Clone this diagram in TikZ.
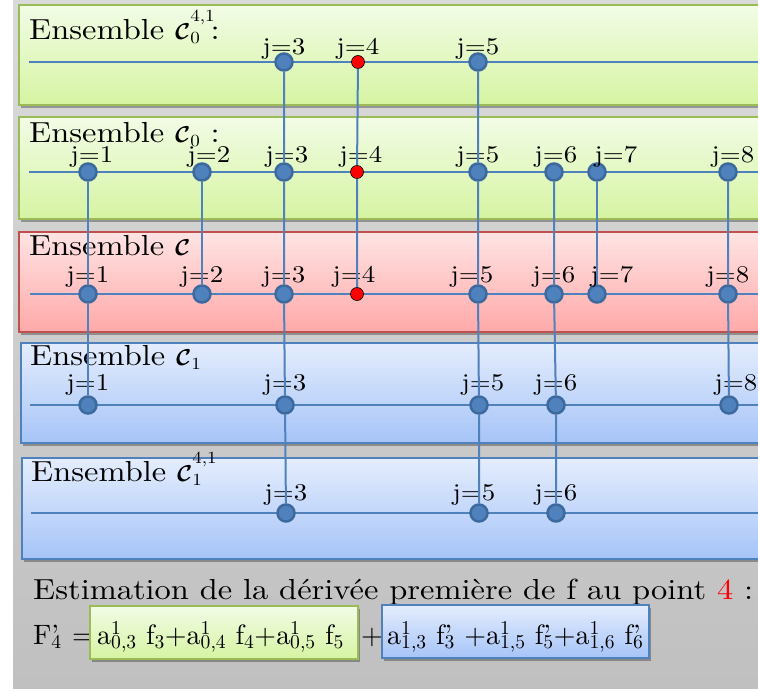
\documentclass[tikz,border=0pt]{standalone}
\usepackage{amsmath}
\usepackage{bm}
\usepackage{graphicx}
\usepackage{fontspec}
\setmainfont{lmroman10-regular.otf}[FakeStretch=1.12]
\newfontfamily\formfont{lmroman10-regular.otf}
\usetikzlibrary{shadows}

\definecolor{fondh}{HTML}{DADADA}
\definecolor{fondb}{HTML}{C0C0C0}
\definecolor{ligne}{HTML}{4F81BD}
\definecolor{pointb}{HTML}{3C6A9E}
\definecolor{vertbord}{HTML}{9BBB59}
\definecolor{verth}{HTML}{F2FCE6}
\definecolor{vertb}{HTML}{D6F4A2}
\definecolor{rougebord}{HTML}{C0504D}
\definecolor{rougeh}{HTML}{FFE4E4}
\definecolor{rougeb}{HTML}{FFA9A9}
\definecolor{bleuh}{HTML}{E4EDFD}
\definecolor{bleub}{HTML}{A6C4F8}

% indices haut et bas empiles
\newcommand{\hb}[2]{\rlap{\textsuperscript{#1}}\textsubscript{#2}}
\newcommand{\pb}[1]{\rlap{’}\textsubscript{#1}}
% le C de chaque ensemble, indice #1 et exposant #2
\newcommand{\ens}[2]{\scalebox{2.3}{\fontsize{10}{12}\selectfont$\bm{\mathcal{C}}$}%
  \rlap{\raisebox{18pt}{\fontsize{17}{18}\selectfont #2}}%
  {\fontsize{17}{18}\selectfont\raisebox{-4pt}{#1}}}

\tikzset{
  ombre/.style={drop shadow={shadow xshift=2pt,shadow yshift=-3pt,fill=black,opacity=0.3}},
  panelv/.style={ombre,draw=vertbord,line width=2.5pt,top color=verth,bottom color=vertb},
  panelr/.style={ombre,draw=rougebord,line width=2.5pt,top color=rougeh,bottom color=rougeb},
  panelb/.style={ombre,draw=ligne,line width=2.5pt,top color=bleuh,bottom color=bleub},
  axe/.style={ligne,line width=2pt},
  bdot/.style={circle,fill=ligne,draw=pointb,line width=2.5pt,minimum size=17pt,inner sep=0pt},
  rdot/.style={circle,fill=red,draw=black,line width=0.6pt,minimum size=13pt,inner sep=0pt},
  jlab/.style={inner sep=0pt,font=\fontsize{24}{26}\selectfont},
  titre/.style={anchor=base west,inner sep=0pt,font=\fontsize{29}{32}\selectfont},
  formule/.style={anchor=base west,inner sep=0pt,font=\formfont\fontsize{28}{30}\selectfont}
}

\begin{document}
\begin{tikzpicture}[x=1pt,y=-1pt]
  \useasboundingbox (0,0) rectangle (758,692);
  \clip (0,0) rectangle (758,692);
  \shade[top color=fondh,bottom color=fondb] (13,0) rectangle (758,688);

  % les cinq ensembles
  \draw[panelv] (19,5) rectangle (780,105);
  \draw[panelv] (19,117) rectangle (780,219);
  \draw[panelr] (19,232) rectangle (780,332);
  \draw[panelb] (21,343) rectangle (780,443);
  \draw[panelb] (22,458) rectangle (780,559);

  \node[titre] (t0) at (29,40) {Ensemble \ens{0}{4,1} :};
  \node[titre] (t1) at (29,143) {Ensemble \ens{0}{} :};
  \node[titre] (t2) at (29,256) {Ensemble \ens{}{}};
  \node[titre] (t3) at (30,366) {Ensemble \ens{1}{}};
  \node[titre] (t4) at (31,482) {Ensemble \ens{1}{4,1}};

  \coordinate (g0) at (29,62);  \coordinate (d0) at (780,62);
  \coordinate (g1) at (29,172); \coordinate (d1) at (780,172);
  \coordinate (g2) at (30,294); \coordinate (d2) at (780,294);
  \coordinate (g3) at (30,405); \coordinate (d3) at (780,405);
  \coordinate (g4) at (31,513); \coordinate (d4) at (780,513);
  \draw[axe] (g0) -- (d0);
  \draw[axe] (g1) -- (d1);
  \draw[axe] (g2) -- (d2);
  \draw[axe] (g3) -- (d3);
  \draw[axe] (g4) -- (d4);

  % points de chaque ensemble
  \begin{scope}[every label/.style={jlab,label distance=-7pt}]
    \node[bdot,label={above:j=3}] (c03) at (284,62) {};
    \node[rdot,label={[label distance=-4pt]above:j=4}] (c04) at (358,62) {};
    \node[bdot,label={above:j=5}] (c05) at (478,62) {};
  \end{scope}

  \begin{scope}[every label/.style={jlab,label distance=-5pt}]
    \node[bdot,label={[xshift=4pt]above:j=1}] (c11) at (88,172) {};
    \node[bdot,label={[xshift=7pt]above:j=2}] (c12) at (202,172) {};
    \node[bdot,label={[xshift=3pt]above:j=3}] (c13) at (284,172) {};
    \node[rdot,label={[xshift=4pt,label distance=-2pt]above:j=4}] (c14) at (357,172) {};
    \node[bdot,label={above:j=5}] (c15) at (478,172) {};
    \node[bdot,label={[xshift=2pt]above:j=6}] (c16) at (554,172) {};
    \node[bdot,label={[xshift=19pt]above:j=7}] (c17) at (597,172) {};
    \node[bdot,label={[xshift=5pt]above:j=8}] (c18) at (728,172) {};
  \end{scope}

  \begin{scope}[every label/.style={jlab,label distance=-3pt}]
    \node[bdot,label={above:j=1}] (c21) at (88,294) {};
    \node[bdot,label={above:j=2}] (c22) at (202,294) {};
    \node[bdot,label={above:j=3}] (c23) at (284,294) {};
    \node[rdot,label={[xshift=-3pt,label distance=0pt]above:j=4}] (c24) at (357,294) {};
    \node[bdot,label={[xshift=-6pt]above:j=5}] (c25) at (478,294) {};
    \node[bdot,label={above:j=6}] (c26) at (554,294) {};
    \node[bdot,label={[xshift=15pt]above:j=7}] (c27) at (597,294) {};
    \node[bdot,label={above:j=8}] (c28) at (728,294) {};
  \end{scope}

  \begin{scope}[every label/.style={jlab,label distance=0pt}]
    \node[bdot,label={above:j=1}] (c31) at (88,405) {};
    \node[bdot,label={above:j=3}] (c33) at (285,405) {};
    \node[bdot,label={[xshift=4pt]above:j=5}] (c35) at (479,405) {};
    \node[bdot,label={above:j=6}] (c36) at (556,405) {};
    \node[bdot,label={[xshift=7pt]above:j=8}] (c38) at (729,405) {};
  \end{scope}

  \begin{scope}[every label/.style={jlab,label distance=-2pt}]
    \node[bdot,label={above:j=3}] (c43) at (286,513) {};
    \node[bdot,label={[xshift=-5pt]above:j=5}] (c45) at (479,513) {};
    \node[bdot,label={above:j=6}] (c46) at (556,513) {};
  \end{scope}

  % liaisons verticales
  \draw[axe] (c11) -- (c21) -- (c31);
  \draw[axe] (c12) -- (c22);
  \draw[axe] (c03) -- (c13) -- (c23) -- (c33) -- (c43);
  \draw[axe] (c04) -- (c14) -- (c24);
  \draw[axe] (c05) -- (c15) -- (c25) -- (c35) -- (c45);
  \draw[axe] (c16) -- (c26) -- (c36) -- (c46);
  \draw[axe] (c17) -- (c27);
  \draw[axe] (c18) -- (c28) -- (c38);

  % estimation
  \node[titre,font=\fontsize{29}{32}\selectfont] (est) at (33,599)
    {Estimation de la dérivée première de f au point \textcolor{red}{4} :};
  \node[formule] (fp) at (33,644) {F\pb{4}};
  \node[formule] (eg) at (72,644) {=};
  \draw[ombre,draw=vertbord,line width=2pt,top color=verth,bottom color=vertb]
    (90,606) rectangle (358,659);
  \node[formule] (sv) at (97,644)
    {a\hb{1}{0,3} f\textsubscript{3}+a\hb{1}{0,4} f\textsubscript{4}+a\hb{1}{0,5} f\textsubscript{5}};
  \node[formule] (pl) at (361,644) {+};
  \draw[ombre,draw=ligne,line width=2pt,top color=bleuh,bottom color=bleub]
    (382,605) rectangle (649,658);
  \node[formule] (sb) at (387,644)
    {a\hb{1}{1,3} f\pb{3} +a\hb{1}{1,5} f\pb{5}+a\hb{1}{1,6} f\pb{6}};
\end{tikzpicture}
\end{document}
